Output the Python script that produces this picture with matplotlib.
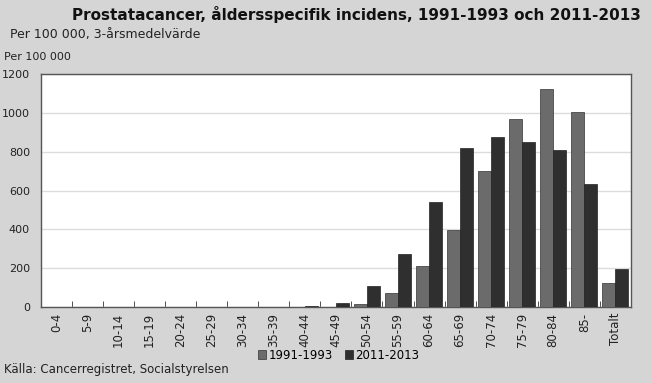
import matplotlib.pyplot as plt
import numpy as np

plt.rcParams['font.family'] = ['DejaVu Sans']

ages = ['0-4', '5-9', '10-14', '15-19', '20-24', '25-29', '30-34', '35-39',
        '40-44', '45-49', '50-54', '55-59', '60-64', '65-69', '70-74',
        '75-79', '80-84', '85-', 'Totalt']
p1991 = [0, 0, 0, 0, 0, 0, 0, 0, 2, 2, 18, 74, 213, 398, 703, 968, 1125, 1003, 125]
p2011 = [0, 0, 0, 0, 0, 0, 0, 0, 3, 22, 108, 272, 540, 821, 874, 852, 810, 631, 198]

bg = '#d5d5d5'
c1 = '#6b6b6b'
c2 = '#2f2f2f'

fig = plt.figure(figsize=(6.51, 3.83), dpi=100, facecolor=bg)
ax = fig.add_axes([0.063, 0.1984, 0.906, 0.6084])
ax.set_facecolor('white')

x = np.arange(len(ages))
w = 0.42
ax.bar(x - w / 2, p1991, w, color=c1, edgecolor='#333333', linewidth=0.5, label='1991-1993', zorder=3)
ax.bar(x + w / 2, p2011, w, color=c2, edgecolor='#222222', linewidth=0.5, label='2011-2013', zorder=3)

ax.set_xlim(-0.5, len(ages) - 0.5)
ax.set_ylim(0, 1200)
ax.set_yticks(range(0, 1201, 200))
ax.yaxis.grid(True, color='#dcdcdc', linewidth=1, zorder=0)
ax.tick_params(axis='y', length=0, labelsize=8, pad=8, colors='#222222')

ax.set_xticks(x)
ax.set_xticklabels(ages, rotation=90, fontsize=8.5, color='#222222')
ax.tick_params(axis='x', length=0, pad=4)
ax.set_xticks(np.arange(0.5, len(ages) - 1, 1), minor=True)
ax.tick_params(axis='x', which='minor', direction='in', length=4, color='#333333')

for s in ax.spines.values():
    s.set_color('#555555')
    s.set_linewidth(1)

fig.text(0.985, 0.963, 'Prostatacancer, åldersspecifik incidens, 1991-1993 och 2011-2013',
         ha='right', va='center', fontsize=11, fontweight='bold', color='#111111')
fig.text(0.015, 0.91, 'Per 100 000, 3-årsmedelvärde', ha='left', va='center',
         fontsize=9, color='#222222')
fig.text(0.006, 0.85, 'Per 100 000', ha='left', va='center', fontsize=8, color='#222222')
fig.text(0.006, 0.035, 'Källa: Cancerregistret, Socialstyrelsen', ha='left', va='center',
         fontsize=8.5, color='#222222')

fig.legend(loc='center', bbox_to_anchor=(0.52, 0.073), ncol=2, frameon=False,
           fontsize=8.5, handlelength=0.7, handleheight=0.7, handletextpad=0.2,
           columnspacing=1.0, borderaxespad=0)

fig.savefig('out.png', dpi=100, facecolor=bg)
